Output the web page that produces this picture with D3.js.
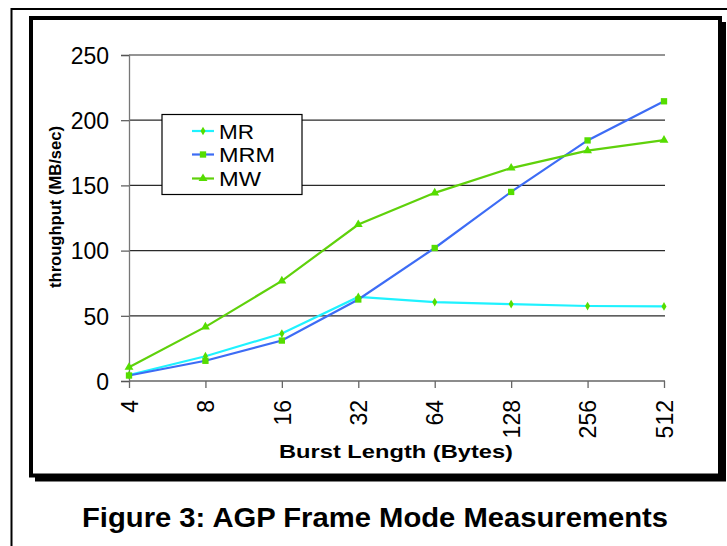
<!DOCTYPE html>
<html><head><meta charset="utf-8">
<script src="https://cdn.jsdelivr.net/npm/d3@7"></script>
<style>
html,body{margin:0;padding:0;background:#fff;}
svg{display:block;font-family:"Liberation Sans",Arial,sans-serif;}
</style></head>
<body>
<svg id="c" width="727" height="546"></svg>
<script>
const categories = ["4","8","16","32","64","128","256","512"];
const seriesNames = ["MR","MRM","MW"];
const mrValues  = [4.6, 19, 36.4, 64.5, 60.5, 59, 57.5, 57.2];
const mrmValues = [4.2, 15.5, 31, 62.5, 102, 145, 184.5, 214.5];
const mwValues  = [10.5, 41.5, 76.8, 120, 144.3, 163.3, 176.7, 184.7];
const yTicks = [0, 50, 100, 150, 200, 250];
const titleText = "Figure 3: AGP Frame Mode Measurements";
const xTitle = "Burst Length (Bytes)";
const yTitle = "throughput (MB/sec)";

const series = [
  {name: seriesNames[0], values: mrValues,  color: "#1ff2ff", symbol: d3.symbolDiamond, size: 22},
  {name: seriesNames[1], values: mrmValues, color: "#3d6cf5", symbol: d3.symbolSquare,  size: 40},
  {name: seriesNames[2], values: mwValues,  color: "#5fd10b", symbol: d3.symbolTriangle,size: 34}
];
const markerColor = "#55dd00";

const svg = d3.select("#c");

// outer frame
svg.append("path").attr("d","M11.5,560 V9 H740").attr("fill","none").attr("stroke","#000").attr("stroke-width",2);
// shadow + box
svg.append("rect").attr("x",35).attr("y",22).attr("width",691).attr("height",459.5).attr("fill","#000");
svg.append("rect").attr("x",31).attr("y",18).attr("width",689).attr("height",457.5)
  .attr("fill","#fff").attr("stroke","#000").attr("stroke-width",4);

const x = d3.scalePoint().domain(categories).range([129, 664]).padding(0);
const y = d3.scaleLinear().domain([0, 250]).range([381, 55]);

// gridlines
const g = svg.append("g");
g.selectAll("line.grid").data(yTicks.filter(d=>d>0)).join("line")
  .attr("x1",129).attr("x2",665).attr("y1",d=>y(d)).attr("y2",d=>y(d))
  .attr("stroke","#2a2a2a").attr("stroke-width",1.2);

// y axis
const yAxis = svg.append("g").attr("transform","translate(129,0)")
  .call(d3.axisLeft(y).tickValues(yTicks).tickSize(8).tickPadding(12).tickFormat(d3.format("d")));
yAxis.select(".domain").attr("stroke","#777").attr("stroke-width",1.3);
yAxis.selectAll(".tick line").attr("stroke","#555").attr("stroke-width",1.2);
yAxis.selectAll(".tick text").attr("font-size",23).attr("fill","#000")
  .attr("font-family","Liberation Sans, Arial, sans-serif").attr("dy","0.36em");

// x axis
const xAxis = svg.append("g").attr("transform","translate(0,381)")
  .call(d3.axisBottom(x).tickSize(7).tickSizeOuter(0));
xAxis.select(".domain").attr("stroke","#666").attr("stroke-width",1.5).attr("d","M129,0H665");
xAxis.selectAll(".tick line").attr("stroke","#666").attr("stroke-width",1.3);
xAxis.selectAll(".tick text").attr("font-size",23).attr("fill","#000")
  .attr("font-family","Liberation Sans, Arial, sans-serif")
  .attr("text-anchor","end").attr("transform","rotate(-90)")
  .attr("x",-19).attr("y",0).attr("dy","0.36em");

// lines
const line = d3.line().x((d,i)=>x(categories[i])).y(d=>y(d));
series.forEach(s=>{
  svg.append("path").datum(s.values).attr("d",line).attr("fill","none")
    .attr("stroke",s.color).attr("stroke-width",2.2);
});
series.forEach(s=>{
  svg.append("g").selectAll("path").data(s.values).join("path")
    .attr("d",d3.symbol().type(s.symbol).size(s.size))
    .attr("transform",(d,i)=>`translate(${x(categories[i])},${y(d)})`)
    .attr("fill",markerColor);
});

// legend
const lg = svg.append("g");
lg.append("rect").attr("x",162).attr("y",114.5).attr("width",140).attr("height",80)
  .attr("fill","#fff").attr("stroke","#000").attr("stroke-width",1.2);
const legY = [131, 154.5, 178.5];
const legW = [35, 56, 42];
series.forEach((s,i)=>{
  lg.append("line").attr("x1",192).attr("x2",214).attr("y1",legY[i]).attr("y2",legY[i])
    .attr("stroke",s.color).attr("stroke-width",2.2);
  lg.append("path").attr("d",d3.symbol().type(s.symbol).size(s.size)())
    .attr("transform",`translate(203,${legY[i]})`).attr("fill",markerColor);
  lg.append("text").attr("x",219).attr("y",legY[i]+7.5).attr("font-size",20)
    .attr("textLength",legW[i]).attr("lengthAdjust","spacingAndGlyphs").text(s.name);
});

// axis titles
svg.append("text").attr("transform","translate(61,207) rotate(-90)")
  .attr("text-anchor","middle").attr("font-size",16.5).attr("font-weight","bold")
  .attr("textLength",162).attr("lengthAdjust","spacingAndGlyphs").text(yTitle);
svg.append("text").attr("x",279).attr("y",457.5).attr("font-size",19).attr("font-weight","bold")
  .attr("textLength",234).attr("lengthAdjust","spacingAndGlyphs").text(xTitle);

// figure caption
svg.append("text").attr("x",82).attr("y",526.5).attr("font-size",28).attr("font-weight","bold")
  .attr("textLength",586).attr("lengthAdjust","spacingAndGlyphs").text(titleText);
</script>
</body></html>
